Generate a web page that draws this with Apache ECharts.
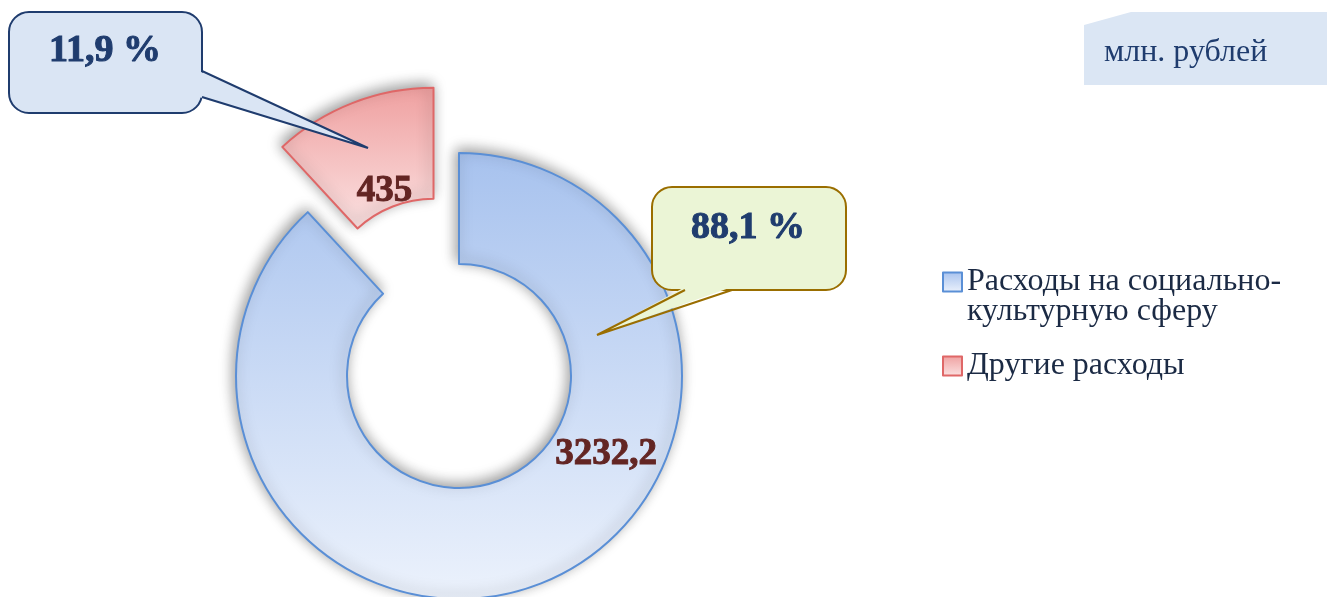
<!DOCTYPE html>
<html>
<head>
<meta charset="utf-8">
<script src="https://cdn.jsdelivr.net/npm/echarts@6/dist/echarts.min.js"></script>
<style>
    html, body { margin: 0; padding: 0; background: #fff; }
    #main { width: 1327px; height: 597px; }
</style>
</head>
<body>
<div id="main"></div>
<script>
    // данные
    const categories = ['Расходы на социально-культурную сферу', 'Другие расходы'];
    const values = [3232.2, 435];
    const unitLabel = 'млн. рублей';

    const serif = 'Liberation Serif';
    const total = values.reduce((a, b) => a + b, 0);
    const fmt = v => String(v).replace('.', ',');
    const pct = v => (v / total * 100).toFixed(1).replace('.', ',') + ' %';

    const blueFill = new echarts.graphic.LinearGradient(0, 0, 0, 1, [
        { offset: 0, color: '#a7c2ee' },
        { offset: 1, color: '#ecf2fc' }
    ]);
    const redFill = new echarts.graphic.LinearGradient(0, 0, 0, 1, [
        { offset: 0, color: '#efa0a0' },
        { offset: 1, color: '#fbe2e2' }
    ]);
    const styles = [
        { color: blueFill, borderColor: '#5a8fd6', borderWidth: 2 },
        { color: redFill, borderColor: '#df6767', borderWidth: 2 }
    ];

    // куда сдвинуть подписи значений (центр текста, до выдвижения сектора)
    // вторая подпись потом уезжает вместе с выдвинутым сектором на (-25, -65)
    const labelPos = [[606, 454], [410, 257]];

    // выноска: прямоугольник + хвостик
    function callout(box, base, tip, fill, stroke, text, textPos) {
        const inner = base.map(p => [p[0] + (p[0] === box.x + box.width ? -3 : 0), p[1] + (p[1] === box.y + box.height ? -3 : 0)]);
        return [
            {
                type: 'rect', z: 10,
                shape: { x: box.x, y: box.y, width: box.width, height: box.height, r: 20 },
                style: { fill: fill, stroke: stroke, lineWidth: 2 }
            },
            {
                type: 'polygon', z: 10,
                shape: { points: [inner[0], tip, inner[1]] },
                style: { fill: fill }
            },
            {
                type: 'polyline', z: 10,
                shape: { points: [base[0], tip, base[1]] },
                style: { stroke: stroke, lineWidth: 2, fill: null }
            },
            {
                type: 'text', z: 10,
                x: textPos[0], y: textPos[1],
                style: {
                    text: text, fontFamily: serif, fontSize: 38, fontWeight: 'bold',
                    fill: '#1f3c6e', stroke: '#1f3c6e', lineWidth: 1,
                    align: 'center', verticalAlign: 'middle'
                }
            }
        ];
    }

    const chart = echarts.init(document.getElementById('main'));
    const option = {
        animation: false,
        legend: {
            orient: 'vertical',
            left: 937,
            top: 231,
            icon: 'rect',
            itemWidth: 19,
            itemHeight: 19,
            itemGap: 22,
            selectedMode: false,
            textStyle: { fontFamily: serif, fontSize: 32, color: '#1b2a44', lineHeight: 30 },
            // пустая первая строка, чтобы значок стоял напротив первой строки текста
            formatter: name => name.indexOf('социально-') >= 0 ? '\n' + name.replace('социально-', 'социально-\n') : name,
            data: categories.map((name, i) => ({
                name: name,
                itemStyle: styles[i]
            }))
        },
        series: [
            {
                type: 'pie',
                center: [459, 376],
                radius: [112, 223],
                startAngle: 90,
                clockwise: true,
                selectedMode: 'single',
                selectedOffset: 70,
                silent: true,
                label: {
                    show: true,
                    position: 'inside',
                    fontFamily: serif,
                    fontSize: 37,
                    fontWeight: 'bold',
                    color: '#632523',
                    textBorderColor: '#632523',
                    textBorderWidth: 1,
                    formatter: p => fmt(p.value)
                },
                labelLine: { show: false },
                labelLayout: p => {
                    const r = p.labelRect;
                    const t = labelPos[p.dataIndex];
                    return { dx: t[0] - (r.x + r.width / 2), dy: t[1] - (r.y + r.height / 2) };
                },
                data: categories.map((name, i) => ({
                    name: name,
                    value: values[i],
                    selected: i === 1,
                    itemStyle: Object.assign({
                        shadowBlur: 14,
                        shadowOffsetX: -2,
                        shadowOffsetY: -3,
                        shadowColor: 'rgba(0,0,0,0.4)'
                    }, styles[i])
                }))
            }
        ],
        graphic: [
            ...callout({ x: 9, y: 12, width: 193, height: 101 }, [[202, 71], [202, 97]], [368, 148],
                '#dae5f4', '#1f3c6e', pct(values[1]), [105, 51]),
            ...callout({ x: 652, y: 187, width: 194, height: 103 }, [[732, 290], [685, 290]], [597, 335],
                '#ebf5d6', '#9a6e00', pct(values[0]), [748, 228]),
            // единицы измерения
            {
                type: 'polygon',
                shape: { points: [[1084, 25], [1131, 12], [1327, 12], [1327, 85], [1084, 85]] },
                style: { fill: '#dbe6f4' }
            },
            {
                type: 'text',
                x: 1104, y: 53,
                style: { text: unitLabel, fontFamily: serif, fontSize: 32, fill: '#1f3c6e', align: 'left', verticalAlign: 'middle' }
            }
        ]
    };
    chart.setOption(option);
</script>
</body>
</html>
